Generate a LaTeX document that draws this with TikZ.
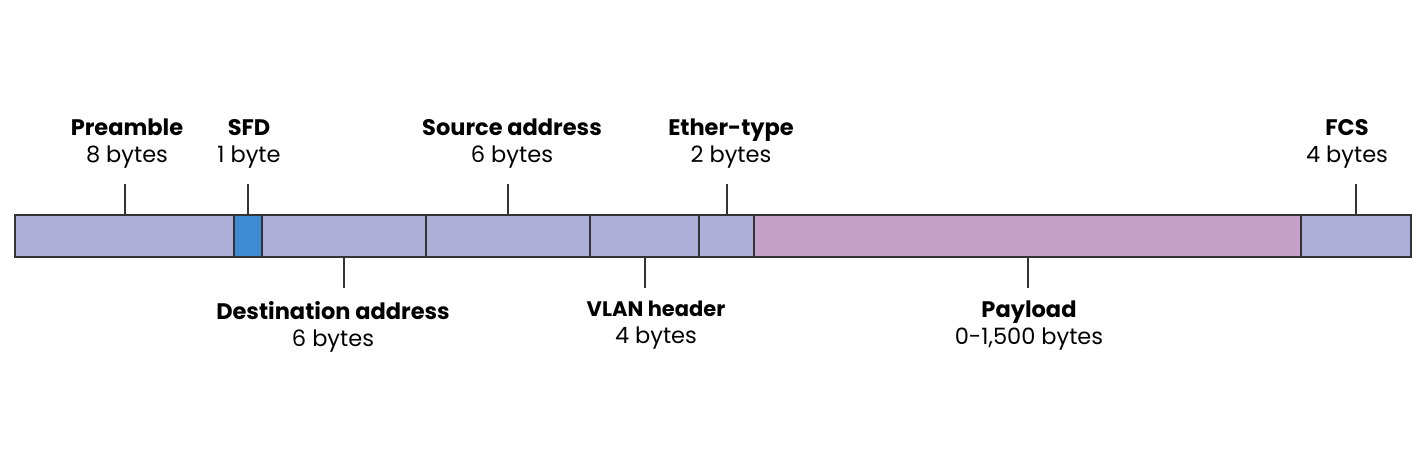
\documentclass[tikz,border=0pt]{standalone}
\usepackage{fontspec}
\setmainfont{Poppins}
\begin{document}
\begin{tikzpicture}[x=1pt,y=-1pt,
  seg/.style={draw=black!80, line width=1.6pt},
  tick/.style={draw=black!80, line width=1.4pt},
  lbl/.style={align=center, font=\fontsize{22.5}{27}\selectfont, inner sep=0pt}]
\useasboundingbox (0,0) rectangle (1425,471);
\definecolor{lav}{HTML}{ADAED8}
\definecolor{sfdc}{HTML}{3D8BD0}
\definecolor{pay}{HTML}{C5A0C9}
% segments
\path[seg, fill=lav] (15,215) rectangle (234,257);
\path[seg, fill=sfdc] (234,215) rectangle (262,257);
\path[seg, fill=lav] (262,215) rectangle (426,257);
\path[seg, fill=lav] (426,215) rectangle (590,257);
\path[seg, fill=lav] (590,215) rectangle (699,257);
\path[seg, fill=lav] (699,215) rectangle (754,257);
\path[seg, fill=pay] (754,215) rectangle (1301,257);
\path[seg, fill=lav] (1301,215) rectangle (1411,257);
% coordinates for ticks
\coordinate (t1a) at (125,184); \coordinate (t1b) at (125,215);
\coordinate (t2a) at (248,184); \coordinate (t2b) at (248,215);
\coordinate (t3a) at (344,257); \coordinate (t3b) at (344,288);
\coordinate (t4a) at (508,184); \coordinate (t4b) at (508,215);
\coordinate (t5a) at (645,257); \coordinate (t5b) at (645,288);
\coordinate (t6a) at (727,184); \coordinate (t6b) at (727,215);
\coordinate (t7a) at (1028,257); \coordinate (t7b) at (1028,288);
\coordinate (t8a) at (1356,184); \coordinate (t8b) at (1356,215);
\foreach \i in {1,...,8} \draw[tick] (t\i a) -- (t\i b);
% labels
\node[lbl, anchor=south] (l1) at (127,169) {\textbf{Preamble}\\8 bytes};
\node[lbl, anchor=south] (l2) at (249,169) {\textbf{SFD}\\1 byte};
\node[lbl, anchor=south] (l4) at (512,169) {\textbf{Source address}\\6 bytes};
\node[lbl, anchor=south] (l6) at (731,169) {\textbf{Ether-type}\\2 bytes};
\node[lbl, anchor=south] (l8) at (1347,169) {\textbf{FCS}\\4 bytes};
\node[lbl, anchor=north] (l3) at (333,301) {\textbf{Destination address}\\6 bytes};
\node[lbl, anchor=north] (l5) at (656,301) {\textbf{\fontsize{21}{27}\selectfont VLAN header}\\4 bytes};
\node[lbl, anchor=north] (l7) at (1029,301) {\textbf{Payload}\\0-1,500 bytes};
\end{tikzpicture}
\end{document}
